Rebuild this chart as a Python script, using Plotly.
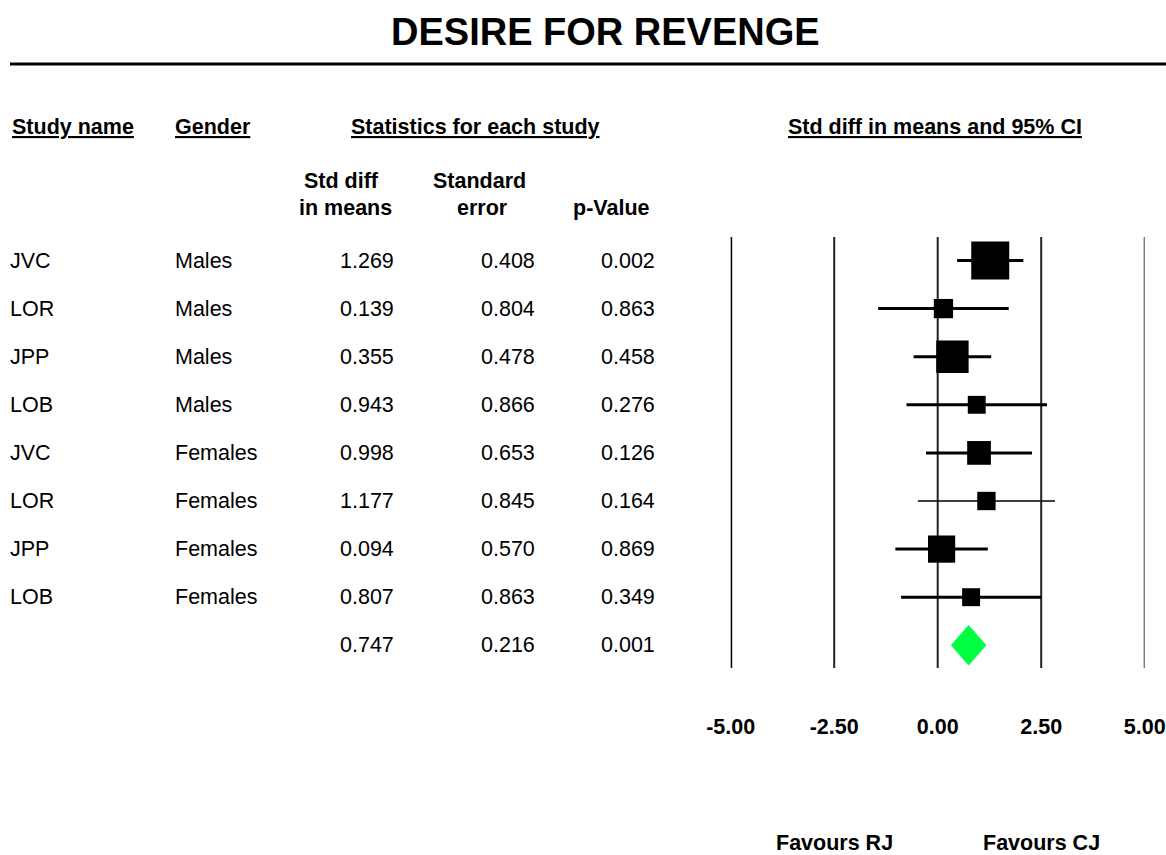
import plotly.graph_objects as go

# ---------------- data ----------------
title_text = "DESIRE FOR REVENGE"
study_names = ["JVC", "LOR", "JPP", "LOB", "JVC", "LOR", "JPP", "LOB"]
genders = ["Males", "Males", "Males", "Males", "Females", "Females", "Females", "Females"]
std_diff = [1.269, 0.139, 0.355, 0.943, 0.998, 1.177, 0.094, 0.807]
std_err = [0.408, 0.804, 0.478, 0.866, 0.653, 0.845, 0.570, 0.863]
p_values = [0.002, 0.863, 0.458, 0.276, 0.126, 0.164, 0.869, 0.349]
summary_diff = 0.747
summary_se = 0.216
summary_p = 0.001
tick_vals = [-5.0, -2.5, 0.0, 2.5, 5.0]
tick_text = ["-5.00", "-2.50", "0.00", "2.50", "5.00"]
favours_left = "Favours RJ"
favours_right = "Favours CJ"
col_headers = ["Study name", "Gender", "Statistics for each study", "Std diff in means and 95% CI"]

# ---------------- layout helpers ----------------
W, H = 1166, 855
FONT = "Liberation Sans, Arial, sans-serif"
FS = 21.5
Z = 1.96
ROW0, ROWH = 260.5, 48.1
n = len(study_names)


def px(xp):
    return xp / W


def py(yp):
    return 1 - yp / H


def row_of(yp):
    return (yp - ROW0) / ROWH


ci_widths = [3, 3, 3, 3, 3, 1.3, 3, 3]

fig = go.Figure()

# CI lines
for i, (e, s) in enumerate(zip(std_diff, std_err)):
    fig.add_trace(go.Scatter(
        x=[e - Z * s, e + Z * s], y=[i, i], mode="lines",
        line=dict(color="black", width=ci_widths[i]),
        hoverinfo="skip", showlegend=False))

# squares (size proportional to inverse SE)
fig.add_trace(go.Scatter(
    x=std_diff, y=list(range(n)), mode="markers",
    marker=dict(symbol="square", size=[15.5 / s for s in std_err],
                color="black", opacity=1, line=dict(width=0)),
    showlegend=False, hoverinfo="skip"))

# summary diamond
lo, hi = summary_diff - Z * summary_se, summary_diff + Z * summary_se
hh = 20 / ROWH
fig.add_trace(go.Scatter(
    x=[lo, summary_diff, hi, summary_diff, lo],
    y=[n, n - hh, n, n + hh, n],
    mode="lines", fill="toself", fillcolor="#00ff40",
    line=dict(color="#00ff40", width=0.5),
    showlegend=False, hoverinfo="skip"))

shapes = []
# vertical reference lines
vwidths = [3, 2, 2, 2, 2]
vcolors = ["black", "#222", "#222", "#222", "#444"]
for v, w, c in zip(tick_vals, vwidths, vcolors):
    shapes.append(dict(type="line", xref="x", yref="y", x0=v, x1=v,
                       y0=row_of(237), y1=row_of(668),
                       line=dict(color=c, width=w), layer="below"))
# rule under the title
shapes.append(dict(type="line", xref="paper", yref="paper",
                   x0=px(10), x1=1, y0=py(64), y1=py(64),
                   line=dict(color="black", width=3)))

ann = []


def add_text(text, xp, yp, anchor="left", bold=False, size=FS, under=False):
    f = dict(family=FONT, size=size, color="black")
    if under:
        f["lineposition"] = "under"
    ann.append(dict(text=("<b>%s</b>" % text) if bold else text,
                    x=px(xp), y=py(yp), xref="paper", yref="paper",
                    xanchor=anchor, yanchor="middle", showarrow=False,
                    font=f))


# title
add_text(title_text, 605, 32, anchor="center", bold=True, size=38)

# column headers
hdr_x = [10, 173, 349, 786]
for t, xx in zip(col_headers, hdr_x):
    add_text(t, xx, 127, bold=True, under=True)

add_text("Std diff", 341, 181, anchor="center", bold=True)
add_text("in means", 345, 208, anchor="center", bold=True)
add_text("Standard", 479, 181, anchor="center", bold=True)
add_text("error", 482, 208, anchor="center", bold=True)
add_text("p-Value", 611, 208, anchor="center", bold=True)

# table rows
for i in range(n):
    yy = ROW0 + ROWH * i
    add_text(study_names[i], 8, yy)
    add_text(genders[i], 173, yy)
    add_text("%.3f" % std_diff[i], 396, yy, anchor="right")
    add_text("%.3f" % std_err[i], 537, yy, anchor="right")
    add_text("%.3f" % p_values[i], 657, yy, anchor="right")
yy = ROW0 + ROWH * n
add_text("%.3f" % summary_diff, 396, yy, anchor="right")
add_text("%.3f" % summary_se, 537, yy, anchor="right")
add_text("%.3f" % summary_p, 657, yy, anchor="right")

# favours labels (placed on the data axis)
for t, xv in [(favours_left, -2.5), (favours_right, 2.5)]:
    ann.append(dict(text="<b>%s</b>" % t, x=xv, y=py(855), xref="x", yref="paper",
                    xanchor="center", yanchor="bottom", showarrow=False,
                    yshift=-2,
                    font=dict(family=FONT, size=FS, color="black")))

fig.update_layout(
    width=W, height=H,
    margin=dict(l=0, r=0, t=0, b=0, pad=0, autoexpand=False),
    paper_bgcolor="white", plot_bgcolor="white",
    showlegend=False,
    xaxis=dict(domain=[730.7 / W, 1144.7 / W], range=[-5, 5],
               anchor="free", position=py(711), automargin=False,
               tickvals=tick_vals, ticktext=["<b>%s</b>" % t for t in tick_text],
               tickfont=dict(family=FONT, size=FS, color="black"),
               showgrid=False, zeroline=False, showline=False, ticks=""),
    yaxis=dict(domain=[0, 1], range=[row_of(H), row_of(0)], visible=False,
               automargin=False),
    shapes=shapes,
    annotations=ann,
)

fig.write_html("out.html", config={"displayModeBar": False},
               post_script="document.body.style.margin='0';document.body.style.overflow='hidden';")
